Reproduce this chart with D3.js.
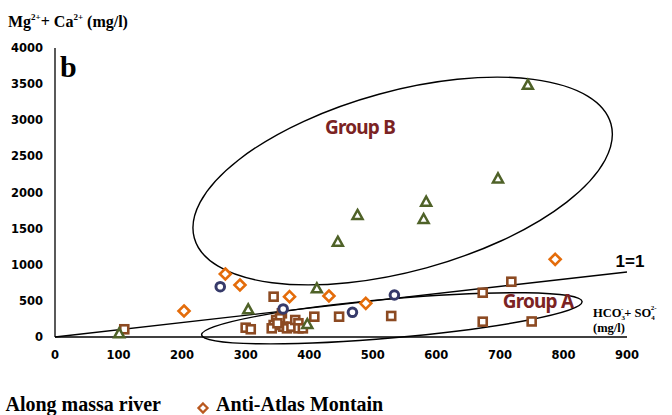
<!DOCTYPE html>
<html>
<head>
<meta charset="utf-8">
<script src="https://cdn.jsdelivr.net/npm/d3@7"></script>
<style>
  body { margin: 0; background: #fff; }
  svg { display: block; }
</style>
</head>
<body>
<div id="chart"></div>
<script>
// ===============================
// DATOS (HCO3+SO4 , Mg+Ca) en mg/l
// ===============================
const xTicks = [0, 100, 200, 300, 400, 500, 600, 700, 800, 900];
const yTicks = [0, 500, 1000, 1500, 2000, 2500, 3000, 3500, 4000];

// triángulos verdes
const greenX = [744, 697, 584, 580, 476, 445, 412, 304, 101, 397];
const greenY = [3490, 2195, 1873, 1633, 1689, 1319, 674, 383, 51, 180];

// rombos naranjas (Anti-Atlas Montain)
const orangeX = [268, 291, 203, 369, 431, 489, 787];
const orangeY = [872, 720, 360, 558, 567, 466, 1075];

// círculos azul oscuro
const navyX = [260, 359, 468, 534];
const navyY = [696, 388, 342, 581];

// cuadrados marrones (Along massa river)
const brownX = [109, 344, 718, 673, 673, 750, 529, 447, 408, 357, 300, 308,
  348, 354, 344, 341, 359, 365, 372, 378, 383, 383, 390, 350];
const brownY = [107, 558, 765, 613, 212, 215, 291, 281, 281, 328, 129, 107,
  235, 259, 166, 120, 143, 120, 143, 235, 190, 120, 120, 190];

// ===============================
// DIBUJO
// ===============================
const width = 672;
const height = 415;

const svg = d3.select('#chart')
  .append('svg')
  .attr('width', width)
  .attr('height', height);

const x = d3.scaleLinear().domain([0, 900]).range([55, 627]);
const y = d3.scaleLinear().domain([0, 4000]).range([337, 48]);

const tickFont = "'DejaVu Sans', Verdana, sans-serif";
const serif = "'Liberation Serif', 'Times New Roman', serif";
const groupFont = "'Noto Sans', 'Open Sans', sans-serif";

// Ejes (sin marcas)
svg.append('line')
  .attr('x1', x(0)).attr('x2', x(0))
  .attr('y1', y(0)).attr('y2', y(4000))
  .attr('stroke', '#000').attr('stroke-width', 1.3);
svg.append('line')
  .attr('x1', x(0)).attr('x2', x(900))
  .attr('y1', y(0)).attr('y2', y(0))
  .attr('stroke', '#000').attr('stroke-width', 1.6);

svg.append('g')
  .selectAll('text')
  .data(yTicks)
  .enter()
  .append('text')
  .attr('x', 43)
  .attr('y', d => y(d) + 4)
  .attr('text-anchor', 'end')
  .attr('font-family', tickFont)
  .attr('font-weight', 'bold')
  .attr('font-size', 11.5)
  .text(d => d);

svg.append('g')
  .selectAll('text')
  .data(xTicks)
  .enter()
  .append('text')
  .attr('x', d => x(d))
  .attr('y', 359)
  .attr('text-anchor', 'middle')
  .attr('font-family', tickFont)
  .attr('font-weight', 'bold')
  .attr('font-size', 11.5)
  .text(d => d);

// Elipses de grupos
function ellipse(cx, cy, rx, ry, angle) {
  svg.append('ellipse')
    .attr('cx', 0).attr('cy', 0)
    .attr('rx', rx).attr('ry', ry)
    .attr('transform', `translate(${x(cx)},${y(cy)}) rotate(${angle})`)
    .attr('fill', 'none')
    .attr('stroke', '#000')
    .attr('stroke-width', 1.4);
}
ellipse(547, 2159, 216, 90, -15.3);
ellipse(530, 259, 191, 19.5, -5);

// Línea 1:1
svg.append('line')
  .attr('x1', x(0)).attr('y1', y(0))
  .attr('x2', x(900)).attr('y2', y(900))
  .attr('stroke', '#000').attr('stroke-width', 1.4);

// Marcadores
const pts = (xs, ys) => xs.map((v, i) => [v, ys[i]]);

svg.append('g')
  .selectAll('rect')
  .data(pts(brownX, brownY))
  .enter()
  .append('rect')
  .attr('x', d => x(d[0]) - 4)
  .attr('y', d => y(d[1]) - 4)
  .attr('width', 8).attr('height', 8)
  .attr('fill', '#fff')
  .attr('stroke', '#8c4a22')
  .attr('stroke-width', 2.6);

const diamond = 'M0,-5.5L5.5,0L0,5.5L-5.5,0Z';
svg.append('g')
  .selectAll('path')
  .data(pts(orangeX, orangeY))
  .enter()
  .append('path')
  .attr('d', diamond)
  .attr('transform', d => `translate(${x(d[0])},${y(d[1])})`)
  .attr('fill', '#fff')
  .attr('stroke', '#e46c0a')
  .attr('stroke-width', 2.6);

svg.append('g')
  .selectAll('circle')
  .data(pts(navyX, navyY))
  .enter()
  .append('circle')
  .attr('cx', d => x(d[0]))
  .attr('cy', d => y(d[1]))
  .attr('r', 4.3)
  .attr('fill', '#fff')
  .attr('stroke', '#363a6a')
  .attr('stroke-width', 3);

const tri = 'M0,-5L5,4L-5,4Z';
svg.append('g')
  .selectAll('path')
  .data(pts(greenX, greenY))
  .enter()
  .append('path')
  .attr('d', tri)
  .attr('transform', d => `translate(${x(d[0])},${y(d[1])})`)
  .attr('fill', '#fff')
  .attr('stroke', '#4f6228')
  .attr('stroke-width', 2.5);

// Etiquetas
svg.append('text')
  .attr('x', 360).attr('y', 134)
  .attr('text-anchor', 'middle')
  .attr('font-family', groupFont)
  .attr('font-weight', 'bold')
  .attr('font-size', 19)
  .attr('letter-spacing', -0.8)
  .attr('fill', '#7b2323')
  .text('Group B');

svg.append('text')
  .attr('x', 538).attr('y', 308)
  .attr('text-anchor', 'middle')
  .attr('font-family', groupFont)
  .attr('font-weight', 'bold')
  .attr('font-size', 19)
  .attr('letter-spacing', -0.8)
  .attr('fill', '#7b2323')
  .text('Group A');

svg.append('text')
  .attr('x', 630).attr('y', 267)
  .attr('text-anchor', 'middle')
  .attr('font-family', "'Liberation Sans', Arial, sans-serif")
  .attr('font-weight', 'bold')
  .attr('font-size', 17)
  .text('1=1');

svg.append('text')
  .attr('x', 60).attr('y', 77)
  .attr('font-family', serif)
  .attr('font-weight', 'bold')
  .attr('font-size', 30)
  .text('b');

// Título eje Y
const yTitle = svg.append('text')
  .attr('x', 8).attr('y', 27)
  .attr('font-family', serif)
  .attr('font-weight', 'bold')
  .attr('font-size', 16);
yTitle.append('tspan').text('Mg');
yTitle.append('tspan').attr('dy', -7).attr('font-size', 9).text('2+');
yTitle.append('tspan').attr('dy', 7).text('+ Ca');
yTitle.append('tspan').attr('dy', -7).attr('font-size', 9).text('2+');
yTitle.append('tspan').attr('dy', 7).text(' (mg/l)');

// Título eje X
const xTitle = svg.append('text')
  .attr('x', 593).attr('y', 317)
  .attr('font-family', serif)
  .attr('font-weight', 'bold')
  .attr('font-size', 12.5);
xTitle.append('tspan').text('HCO');
xTitle.append('tspan').attr('font-size', 7).attr('dy', 3).text('3');
xTitle.append('tspan').attr('font-size', 7).attr('dx', -4).attr('dy', -9).text('-');
xTitle.append('tspan').attr('dy', 6).attr('dx', 1).text('+ SO');
xTitle.append('tspan').attr('font-size', 7).attr('dy', 3).text('4');
xTitle.append('tspan').attr('font-size', 7).attr('dx', -4).attr('dy', -10).text('2-');
svg.append('text')
  .attr('x', 593).attr('y', 332)
  .attr('font-family', serif)
  .attr('font-weight', 'bold')
  .attr('font-size', 12.5)
  .text('(mg/l)');

// Leyenda
svg.append('rect')
  .attr('x', -14).attr('y', 400)
  .attr('width', 8).attr('height', 8)
  .attr('fill', '#fff')
  .attr('stroke', '#8c4a22')
  .attr('stroke-width', 2.2);
svg.append('text')
  .attr('x', 161).attr('y', 411)
  .attr('text-anchor', 'end')
  .attr('font-family', serif)
  .attr('font-weight', 'bold')
  .attr('font-size', 20)
  .text('Along massa river');

svg.append('path')
  .attr('d', 'M0,-4.5L4.5,0L0,4.5L-4.5,0Z')
  .attr('transform', 'translate(203,408)')
  .attr('fill', '#fff')
  .attr('stroke', '#b9581f')
  .attr('stroke-width', 2.3);
svg.append('text')
  .attr('x', 216).attr('y', 411)
  .attr('font-family', serif)
  .attr('font-weight', 'bold')
  .attr('font-size', 20)
  .text('Anti-Atlas Montain');
</script>
</body>
</html>
